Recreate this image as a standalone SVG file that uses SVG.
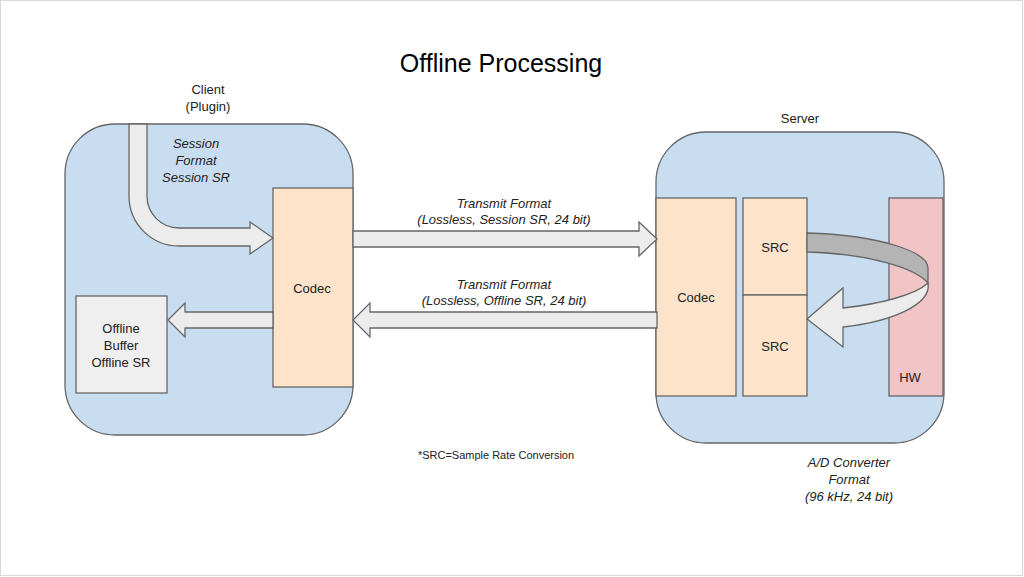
<svg xmlns="http://www.w3.org/2000/svg" width="1024" height="577" viewBox="0 0 1024 577">
<style>
.t{font-family:"Liberation Sans",Arial,sans-serif;font-size:13px;fill:#222;text-anchor:middle}
.i{font-style:italic}
.box{stroke:#666;stroke-width:1.3}
.arr{fill:#ececec;stroke:#666;stroke-width:1.3;stroke-linejoin:miter}
</style>
<rect x="0.5" y="0.5" width="1022" height="575" fill="#fff" stroke="#d9d9d9"/>
<text x="501" y="72" style="font-family:'Liberation Sans',Arial,sans-serif;font-size:25px;fill:#000;text-anchor:middle">Offline Processing</text>
<g id="client">
<rect class="box" x="65" y="124" width="288" height="311" rx="50" fill="#c9ddf0"/>
<text class="t" x="208" y="94">Client</text>
<text class="t" x="208" y="111">(Plugin)</text>
</g>
<g id="client-codec">
<rect class="box" x="273" y="188" width="80" height="199" fill="#fce3c9"/>
<text class="t" x="312" y="293">Codec</text>
</g>
<g id="offline-buffer">
<rect class="box" x="76" y="296" width="91" height="97" fill="#efefef"/>
<text class="t" x="121" y="333">Offline</text>
<text class="t" x="121" y="350">Buffer</text>
<text class="t" x="121" y="367">Offline SR</text>
</g>
<g id="server">
<rect class="box" x="656" y="132" width="288" height="311" rx="50" fill="#c9ddf0"/>
<text class="t" x="800" y="123">Server</text>
</g>
<g id="server-codec">
<rect class="box" x="656" y="198" width="80" height="198" fill="#fce3c9"/>
<text class="t" x="696" y="302">Codec</text>
</g>
<g id="src1">
<rect class="box" x="743" y="198" width="64" height="97" fill="#fce3c9"/>
<text class="t" x="775" y="252">SRC</text>
</g>
<g id="src2">
<rect class="box" x="743" y="295" width="64" height="101" fill="#fce3c9"/>
<text class="t" x="775" y="351">SRC</text>
</g>
<g id="hw">
<rect class="box" x="889" y="198" width="54" height="198" fill="#f1c4c6"/>
<text class="t" x="910" y="382">HW</text>
</g>
<g id="connectors">
<path class="arr" d="M129,124 L129,196 A50,50 0 0 0 179,246 L250,246 L250,254 L273,238 L250,222 L250,228 L179,228 A32,32 0 0 1 147,196 L147,124 Z"/>
<path class="arr" d="M273,312 L185,312 L185,303 L168,320 L185,337 L185,328 L273,328 Z"/>
<path class="arr" d="M353,231 L639,231 L639,222 L657,239 L639,256 L639,247 L353,247 Z"/>
<path class="arr" d="M657,312 L370,312 L370,303 L353,320 L370,337 L370,328 L657,328 Z"/>
<path d="M807,233 C880,235 928,252 928,268 L928,283 C915,268 870,254 807,252 Z" fill="#b4b4b4" stroke="#666" stroke-width="1.3"/>
<path class="arr" d="M928,283 C932,305 890,322 843,327 L843,347 L807,319 L843,288 L843,308 C880,304 915,295 928,283 Z"/>
</g>
<g id="labels">
<text class="t i" x="196" y="148">Session</text>
<text class="t i" x="196" y="165">Format</text>
<text class="t i" x="196" y="182">Session SR</text>
<text class="t i" x="504" y="208">Transmit Format</text>
<text class="t i" x="504" y="224">(Lossless, Session SR, 24 bit)</text>
<text class="t i" x="504" y="289">Transmit Format</text>
<text class="t i" x="504" y="305">(Lossless, Offline SR, 24 bit)</text>
<text class="t i" x="849" y="467">A/D Converter</text>
<text class="t i" x="849" y="484">Format</text>
<text class="t i" x="849" y="501">(96 kHz, 24 bit)</text>
<text class="t" x="496" y="459" style="font-size:11px">*SRC=Sample Rate Conversion</text>
</g>
</svg>
